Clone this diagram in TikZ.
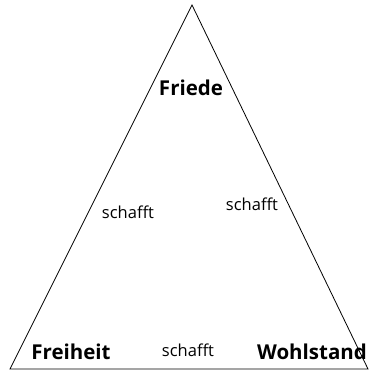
\documentclass[tikz,border=0pt]{standalone}
\usepackage{fontspec}
\setmainfont{Open Sans}
\begin{document}
\begin{tikzpicture}[x=1pt,y=-1pt,
  lbl/.style={font=\fontsize{20.5}{23}\selectfont\bfseries, inner sep=0pt},
  rel/.style={font=\fontsize{16.5}{18}\selectfont, inner sep=0pt}]
\useasboundingbox (0,0) rectangle (368,371);
\coordinate (top) at (192,5);
\coordinate (bl) at (10,369);
\coordinate (br) at (368,369);
\draw[line width=0.8pt, line join=miter] (top) -- (bl) -- (br) -- cycle;
\node[lbl] (friede) at (191,88) {Friede};
\node[lbl] (freiheit) at (71,352) {Freiheit};
\node[lbl] (wohlstand) at (312,352) {Wohlstand};
\node[rel] (s1) at (128,212) {schafft};
\node[rel] (s2) at (252,204) {schafft};
\node[rel] (s3) at (188,350) {schafft};
\end{tikzpicture}
\end{document}
